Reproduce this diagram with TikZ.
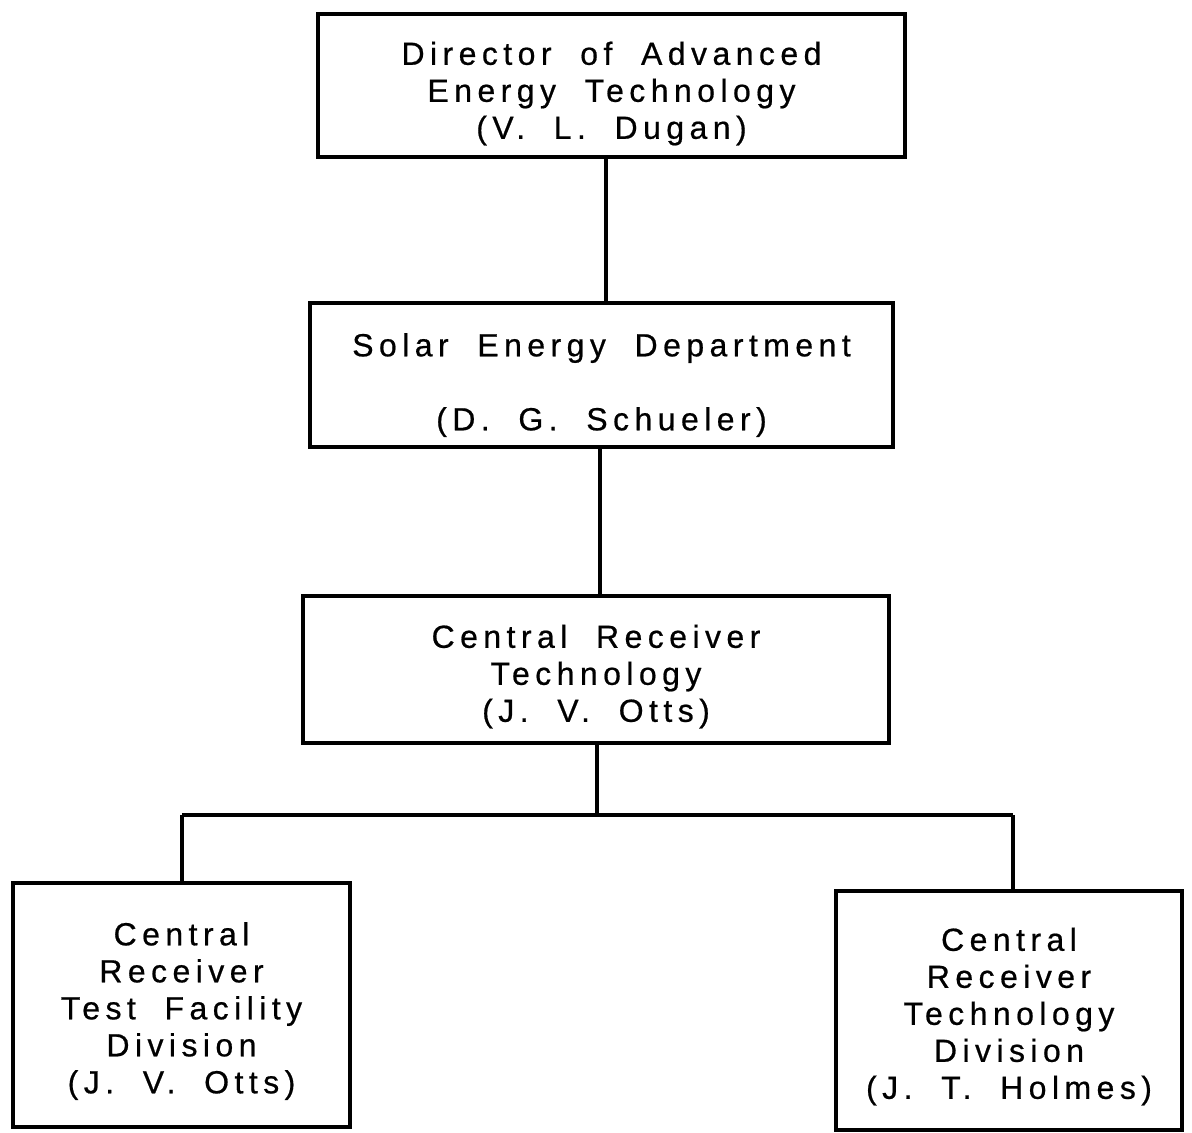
\documentclass[tikz,border=0pt]{standalone}
\usepackage{fontspec}
\setmainfont{Liberation Sans}[LetterSpace=17,WordSpace=2,FakeBold=0.6]
\begin{document}
\begin{tikzpicture}[x=0.5pt,y=-0.5pt,
  orgbox/.style={draw, line width=2.2pt, inner sep=0pt},
  orgtext/.style={align=center, inner sep=0pt,
    font=\fontsize{16pt}{18.5pt}\selectfont},
  link/.style={line width=1.6pt}]
\useasboundingbox (0,0) rectangle (1192,1132);
\node[orgbox, minimum width=293.5pt, minimum height=71.5pt] (dir) at (611.5,85.5) {};
\node[orgbox, minimum width=291.5pt, minimum height=72pt] (sed) at (601.5,375) {};
\node[orgbox, minimum width=293pt, minimum height=73.5pt] (crt) at (596,669.5) {};
\node[orgbox, minimum width=168.5pt, minimum height=122pt] (tfd) at (181.5,1005) {};
\node[orgbox, minimum width=173pt, minimum height=119.5pt] (ctd) at (1009,1010.5) {};
\node[orgtext] (dirt) at ([yshift=-4pt]dir.center)
  {Director of Advanced\\Energy Technology\\(V. L. Dugan)};
\node[orgtext] (sedt) at ([yshift=-5pt]sed.center)
  {Solar Energy Department\\\mbox{}\\(D. G. Schueler)};
\node[orgtext] (crtt) at ([yshift=-3.5pt]crt.center)
  {Central Receiver\\Technology\\(J. V. Otts)};
\node[orgtext] (tfdt) at ([yshift=-3pt]tfd.center)
  {Central\\Receiver\\Test Facility\\Division\\(J. V. Otts)};
\node[orgtext] (ctdt) at ([yshift=-3pt]ctd.center)
  {Central\\Receiver\\Technology\\Division\\(J. T. Holmes)};
\coordinate (jn) at (597,815);
\coordinate (jl) at (182,815);
\coordinate (jr) at (1013,815);
\draw[link] (dir.south -| 606,0) -- (sed.north -| 606,0);
\draw[link] (sed.south -| 600,0) -- (crt.north -| 600,0);
\draw[link] (crt.south -| jn) -- (jn);
\draw[link] (jl) -- (jr);
\draw[link] (jl) -- (tfd.north -| jl);
\draw[link] (jr) -- (ctd.north -| jr);
\end{tikzpicture}
\end{document}
